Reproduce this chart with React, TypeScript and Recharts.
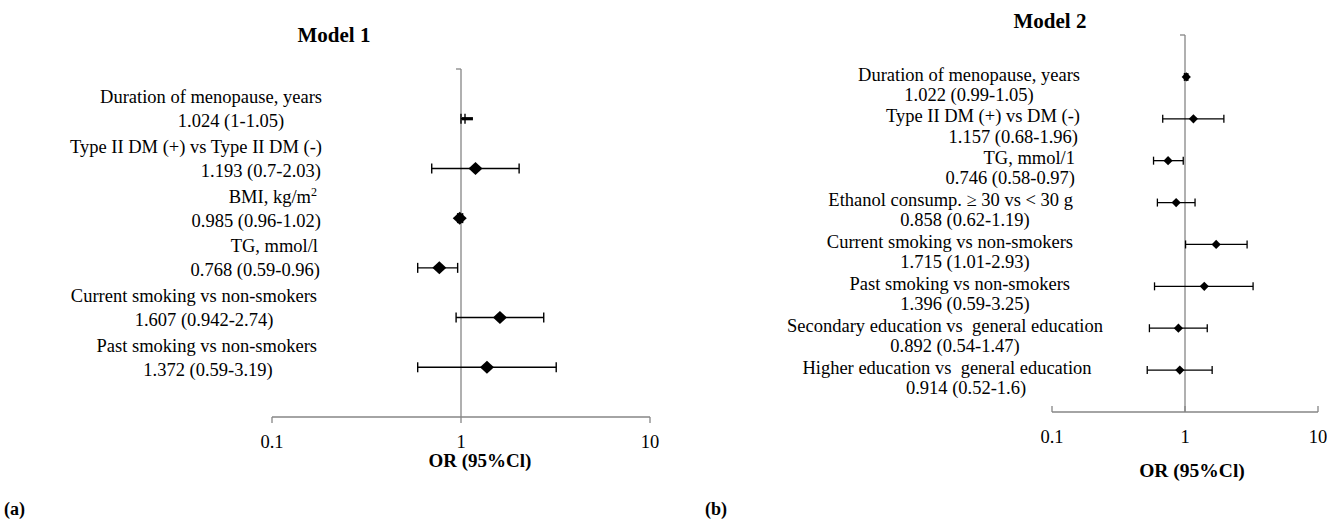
import React from 'react';
import { ScatterChart, Scatter, XAxis, YAxis, ErrorBar, ReferenceLine } from 'recharts';

const FONT = '"Liberation Serif", "Times New Roman", serif';
const AXIS = '#868686';

// ---------- Model 1 data ----------
const model1Labels = [
  'Duration of menopause, years',
  'Type II DM (+) vs Type II DM (-)',
  'BMI, kg/m²',
  'TG, mmol/l',
  'Current smoking vs non-smokers',
  'Past smoking vs non-smokers',
];
const model1CiText = [
  '1.024 (1-1.05)',
  '1.193 (0.7-2.03)',
  '0.985 (0.96-1.02)',
  '0.768 (0.59-0.96)',
  '1.607 (0.942-2.74)',
  '1.372 (0.59-3.19)',
];
const model1OR = [1.024, 1.193, 0.985, 0.768, 1.607, 1.372];
const model1Lower = [1, 0.7, 0.96, 0.59, 0.942, 0.59];
const model1Upper = [1.05, 2.03, 1.02, 0.96, 2.74, 3.19];

// ---------- Model 2 data ----------
const model2Labels = [
  'Duration of menopause, years',
  'Type II DM (+) vs DM (-)',
  'TG, mmol/1',
  'Ethanol consump. ≥ 30 vs < 30 g',
  'Current smoking vs non-smokers',
  'Past smoking vs non-smokers',
  'Secondary education vs  general education',
  'Higher education vs  general education',
];
const model2CiText = [
  '1.022 (0.99-1.05)',
  '1.157 (0.68-1.96)',
  '0.746 (0.58-0.97)',
  '0.858 (0.62-1.19)',
  '1.715 (1.01-2.93)',
  '1.396 (0.59-3.25)',
  '0.892 (0.54-1.47)',
  '0.914 (0.52-1.6)',
];
const model2OR = [1.022, 1.157, 0.746, 0.858, 1.715, 1.396, 0.892, 0.914];
const model2Lower = [0.99, 0.68, 0.58, 0.62, 1.01, 0.59, 0.54, 0.52];
const model2Upper = [1.05, 1.96, 0.97, 1.19, 2.93, 3.25, 1.47, 1.6];

const xTicks = [0.1, 1, 10];
const xTitle = 'OR (95%Cl)';
const titles = ['Model 1', 'Model 2'];
const panelLetters = ['(a)', '(b)'];

const buildRows = (or: number[], lo: number[], hi: number[]) =>
  or.map((v, i) => ({ row: i + 1, or: v, err: [v - lo[i], hi[i] - v] }));

const data1 = buildRows(model1OR, model1Lower, model1Upper);
const data2 = buildRows(model2OR, model2Lower, model2Upper);

const FS = 18.5;

// label layout (text placement relative to the plot's left edge)
const m1NameDx = [50, 50, 45, 46, 45, 45];
const m1ValAnchor = ['middle', 'end', 'end', 'end', 'middle', 'middle'];
const m1ValDx = [-41, 49, 49, 48, -68, -64];

const m2NameAnchor = ['end', 'end', 'end', 'end', 'end', 'end', 'middle', 'middle'];
const m2NameDx = [28, 28, 23, 21, 21, 18, -107, -105];
const m2ValAnchor = ['middle', 'end', 'end', 'middle', 'middle', 'middle', 'middle', 'middle'];
const m2ValDx = [-83, 26, 23, -87, -87, -87, -97, -86];

const renderName = (s: string) => {
  if (s.includes('²')) {
    const base = s.replace('²', '');
    return (
      <>
        <tspan>{base}</tspan>
        <tspan dy={-7} fontSize={12}>2</tspan>
      </>
    );
  }
  return s;
};

const makeYTick = (
  labels: string[],
  cis: string[],
  nameAnchor: string[] | null,
  nameDx: number[],
  valAnchor: string[],
  valDx: number[],
  nameDy: number,
  valDy: number
) => (props: any) => {
  const { x, y, payload } = props;
  const i = payload.value - 1;
  if (i < 0 || i >= labels.length) return <g />;
  return (
    <g>
      <text
        x={x + nameDx[i]}
        y={y + nameDy}
        textAnchor={(nameAnchor ? nameAnchor[i] : 'end') as any}
        fontSize={FS}
        fontFamily={FONT}
        fill="#000"
        style={{ whiteSpace: 'pre' }}
      >
        {renderName(labels[i])}
      </text>
      <text
        x={x + valDx[i]}
        y={y + valDy}
        textAnchor={valAnchor[i] as any}
        fontSize={FS}
        fontFamily={FONT}
        fill="#000"
      >
        {cis[i]}
      </text>
    </g>
  );
};

const makeXTick = (dir: number) => (props: any) => {
  const { x, y, payload } = props;
  return (
    <g>
      <line x1={x} y1={y} x2={x} y2={y + dir * 6} stroke={AXIS} strokeWidth={1.3} />
      <text x={x} y={y + 31} textAnchor="middle" fontSize={FS} fontFamily={FONT} fill="#000">
        {payload.value}
      </text>
    </g>
  );
};

const makeVLine = (tickLen: number) => (p: any) => {
  const top = Math.min(p.y1, p.y2);
  return (
    <g>
      <line x1={p.x1} y1={p.y1} x2={p.x2} y2={p.y2} stroke={AXIS} strokeWidth={1.3} />
      <line x1={p.x1 - tickLen} y1={top} x2={p.x1} y2={top} stroke={AXIS} strokeWidth={1.3} />
    </g>
  );
};

const makeDiamond = (hw: number, hh: number, flatFirst: boolean) => (p: any) => {
  const { cx, cy, payload } = p;
  if (cx == null || cy == null) return <g />;
  if (flatFirst && payload && payload.row === 1) {
    return <rect x={cx - 1} y={cy - 1.6} width={11} height={3.2} fill="#000" />;
  }
  return (
    <polygon
      points={`${cx - hw},${cy} ${cx},${cy - hh} ${cx + hw},${cy} ${cx},${cy + hh}`}
      fill="#000"
    />
  );
};

export default function App() {
  return (
    <div
      style={{
        position: 'absolute',
        left: 0,
        top: 0,
        width: 1327,
        height: 521,
        background: '#fff',
        overflow: 'hidden',
      }}
    >
      {/* Model 1 */}
      <div style={{ position: 'absolute', left: 0, top: 0 }}>
        <ScatterChart
          width={700}
          height={480}
          margin={{ top: 69, right: 50, left: 271, bottom: 33 }}
          style={{ overflow: 'visible' }}
        >
          <XAxis
            type="number"
            dataKey="or"
            scale="log"
            domain={[0.1, 10]}
            allowDataOverflow
            ticks={xTicks}
            height={30}
            stroke={AXIS}
            strokeWidth={1.3}
            tickLine={false}
            tickSize={0}
            tickMargin={0}
            tick={makeXTick(1)}
            interval={0}
          />
          <YAxis
            type="number"
            dataKey="row"
            domain={[0, 7]}
            reversed
            allowDataOverflow
            ticks={[1, 2, 3, 4, 5, 6]}
            width={1}
            axisLine={false}
            tickLine={false}
            tickSize={0}
            tickMargin={0}
            interval={0}
            tick={makeYTick(model1Labels, model1CiText, null, m1NameDx, m1ValAnchor, m1ValDx, -15.5, 8.5)}
          />
          <ReferenceLine x={1} stroke={AXIS} shape={makeVLine(5)} ifOverflow="visible" />
          <Scatter data={data1} isAnimationActive={false} shape={makeDiamond(7, 6.5, true)}>
            <ErrorBar dataKey="err" direction="x" width={5} stroke="#000" strokeWidth={1.4} isAnimationActive={false} />
          </Scatter>
        </ScatterChart>
      </div>

      {/* Model 2 */}
      <div style={{ position: 'absolute', left: 700, top: 0 }}>
        <ScatterChart
          width={627}
          height={480}
          margin={{ top: 35, right: 9, left: 351, bottom: 38 }}
          style={{ overflow: 'visible' }}
        >
          <XAxis
            type="number"
            dataKey="or"
            scale="log"
            domain={[0.1, 10]}
            allowDataOverflow
            ticks={xTicks}
            height={30}
            stroke={AXIS}
            strokeWidth={1.3}
            tickLine={false}
            tickSize={0}
            tickMargin={0}
            tick={makeXTick(-1)}
            interval={0}
          />
          <YAxis
            type="number"
            dataKey="row"
            domain={[0, 9]}
            reversed
            allowDataOverflow
            ticks={[1, 2, 3, 4, 5, 6, 7, 8]}
            width={1}
            axisLine={false}
            tickLine={false}
            tickSize={0}
            tickMargin={0}
            interval={0}
            tick={makeYTick(model2Labels, model2CiText, m2NameAnchor, m2NameDx, m2ValAnchor, m2ValDx, 3.7, 23.8)}
          />
          <ReferenceLine x={1} stroke={AXIS} shape={makeVLine(5)} ifOverflow="visible" />
          <Scatter data={data2} isAnimationActive={false} shape={makeDiamond(4.6, 4.6, false)}>
            <ErrorBar dataKey="err" direction="x" width={4} stroke="#000" strokeWidth={1.3} isAnimationActive={false} />
          </Scatter>
        </ScatterChart>
      </div>

      {/* titles and static text */}
      <svg
        width={1327}
        height={521}
        style={{ position: 'absolute', left: 0, top: 0, pointerEvents: 'none' }}
      >
        <text x={334} y={42} textAnchor="middle" fontSize={21} fontWeight="bold" fontFamily={FONT} fill="#000">
          {titles[0]}
        </text>
        <text x={1050} y={28} textAnchor="middle" fontSize={21} fontWeight="bold" fontFamily={FONT} fill="#000">
          {titles[1]}
        </text>
        <text x={480} y={466.5} textAnchor="middle" fontSize={19} fontWeight="bold" fontFamily={FONT} fill="#000">
          {xTitle}
        </text>
        <text x={1192} y={476.8} textAnchor="middle" fontSize={19.5} fontWeight="bold" fontFamily={FONT} fill="#000">
          {xTitle}
        </text>
        <text x={4} y={515} fontSize={18} fontWeight="bold" fontFamily={FONT} fill="#000">
          {panelLetters[0]}
        </text>
        <text x={705} y={515} fontSize={18} fontWeight="bold" fontFamily={FONT} fill="#000">
          {panelLetters[1]}
        </text>
      </svg>
    </div>
  );
}
